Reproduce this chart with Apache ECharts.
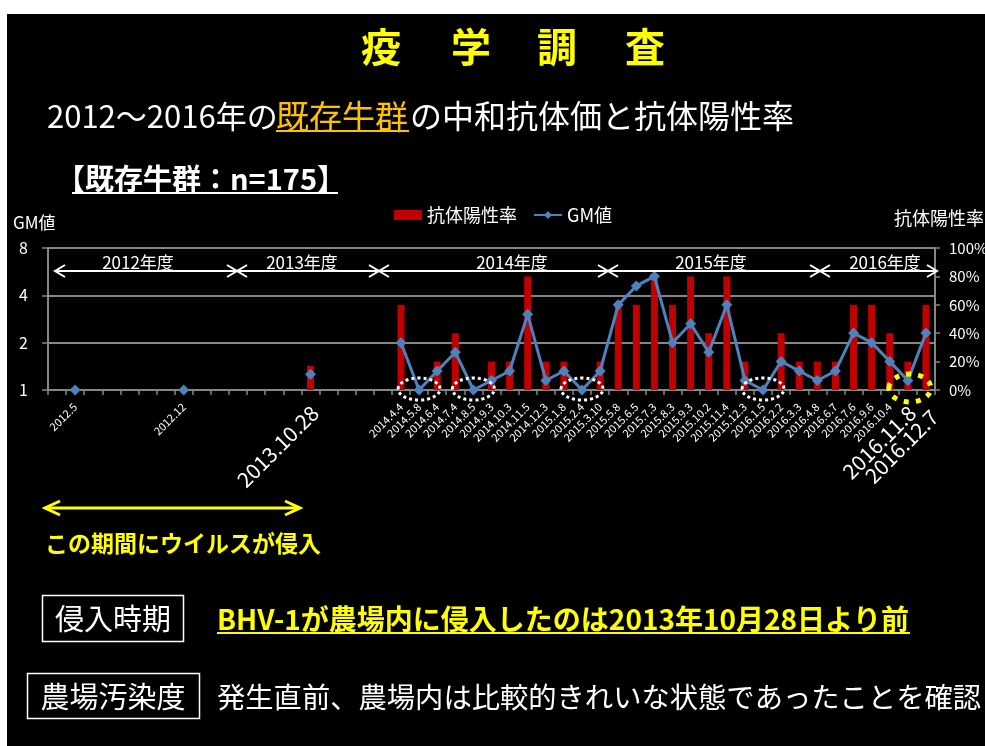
<!DOCTYPE html>
<html>
<head>
<meta charset="utf-8">
<script src="https://cdn.jsdelivr.net/npm/echarts@6/dist/echarts.min.js"></script>
<style>
html, body { margin: 0; padding: 0; background: #fff; }
#main { width: 985px; height: 746px; }
</style>
</head>
<body>
<div id="main"></div>
<script>
// sampling dates (blank = no survey that month)
var categories = ['', '2012.5', '', '', '', '', '', '2012.12', '', '', '', '', '', '', '2013.10.28', '', '', '', '',
    '2014.4.4', '2014.5.8', '2014.6.4', '2014.7.4', '2014.8.5', '2014.9.3', '2014.10.3', '2014.11.5', '2014.12.3',
    '2015.1.8', '2015.2.4', '2015.3.10', '2015.5.8', '2015.6.5', '2015.7.3', '2015.8.3', '2015.9.3', '2015.10.2',
    '2015.11.4', '2015.12.3', '2016.1.5', '2016.2.2', '2016.3.3', '2016.4.8', '2016.6.7', '2016.7.6', '2016.9.6',
    '2016.10.4', '2016.11.8', '2016.12.7'];
// 抗体陽性率 (%)
var positiveRate = ['-', 0, '-', '-', '-', '-', '-', 0, '-', '-', '-', '-', '-', '-', 17, '-', '-', '-', '-',
    60, 0, 20, 40, 0, 20, 20, 80, 20,
    20, 0, 20, 60, 60, 80, 60, 80, 40,
    80, 20, 0, 40, 20, 20, 20, 60, 60,
    40, 20, 60];
// GM値
var gmValues = ['-', 1, '-', '-', '-', '-', '-', 1, '-', '-', '-', '-', '-', '-', 1.26, '-', '-', '-', '-',
    2, 1, 1.32, 1.74, 1, 1.15, 1.32, 3.03, 1.15,
    1.32, 1, 1.32, 3.48, 4.59, 5.28, 2, 2.64, 1.74,
    3.48, 1.15, 1, 1.52, 1.32, 1.15, 1.32, 2.3, 2,
    1.52, 1.15, 2.3];
var bigLabels = ['2013.10.28', '2016.11.8'];
var bigLabelLast = '2016.12.7';
var yearLabels = ['2012年度', '2013年度', '2014年度', '2015年度', '2016年度'];
var circledIdx = [20, 23, 29, 39];
var yellowIdx = 47;

var FONT = '"Noto Sans CJK JP", "Noto Sans", sans-serif';
var GRAY = '#868686';

var chart = echarts.init(document.getElementById('main'));

var option = {
    backgroundColor: '#000',
    animation: false,
    textStyle: {fontFamily: FONT},
    legend: {
        left: 394,
        top: 206,
        padding: 0,
        itemWidth: 28,
        itemHeight: 10,
        itemGap: 16,
        textStyle: {color: '#fff', fontSize: 18, fontFamily: FONT},
        data: [{name: '抗体陽性率', icon: 'rect'}, {name: 'GM値'}]
    },
    grid: {left: 48, right: 50, top: 248, bottom: 356, outerBoundsMode: 'none'},
    xAxis: {
        type: 'category',
        data: categories,
        axisLine: {lineStyle: {color: GRAY, width: 2}},
        axisTick: {show: true, interval: 0, length: 5, lineStyle: {color: GRAY, width: 1.5}},
        axisLabel: {
            interval: 0,
            rotate: 45,
            color: '#fff',
            fontSize: 11,
            margin: 15,
            fontFamily: FONT,
            formatter: function (v) {
                if (bigLabels.indexOf(v) >= 0) {
                    return '{big|' + v + '}';
                }
                if (v == bigLabelLast) {
                    return '{big2|' + v + '}';
                }
                return v;
            },
            rich: {
                big: {fontSize: 21, color: '#fff', fontFamily: FONT, padding: [12, 0, 0, 0]},
                big2: {fontSize: 21, color: '#fff', fontFamily: FONT, padding: [24, 0, 0, 0]}
            }
        }
    },
    yAxis: [
        {
            type: 'log',
            logBase: 2,
            min: 1,
            max: 8,
            axisLine: {show: true, lineStyle: {color: GRAY, width: 2}},
            axisTick: {show: true, length: 6, lineStyle: {color: GRAY, width: 1.5}},
            splitLine: {show: true, lineStyle: {color: GRAY, width: 2}},
            axisLabel: {color: '#fff', fontSize: 16, margin: 20, fontFamily: FONT}
        },
        {
            type: 'value',
            position: 'right',
            min: 0,
            max: 100,
            interval: 20,
            axisLine: {show: true, lineStyle: {color: GRAY, width: 2}},
            axisTick: {show: true, length: 5, lineStyle: {color: GRAY, width: 1.5}},
            splitLine: {show: false},
            axisLabel: {color: '#fff', fontSize: 15, margin: 14, fontFamily: FONT, formatter: '{value}%'}
        }
    ],
    series: [
        {
            name: '抗体陽性率',
            type: 'bar',
            yAxisIndex: 1,
            barWidth: 7,
            itemStyle: {color: '#C00000'},
            data: positiveRate
        },
        {
            name: 'GM値',
            type: 'line',
            yAxisIndex: 0,
            symbol: 'diamond',
            symbolSize: 11,
            showAllSymbol: true,
            connectNulls: false,
            lineStyle: {color: '#4F81BD', width: 3},
            itemStyle: {color: '#4F81BD'},
            data: gmValues
        }
    ]
};
chart.setOption(option);

// ---- slide decorations (text, arrows, circles) ----
function txt(x, y, s, size, color, bold, align) {
    return {
        type: 'text', x: x, y: y, z: 100,
        style: {
            text: s, fill: color, fontSize: size, fontFamily: FONT,
            fontWeight: bold ? 'bold' : 'normal',
            align: align || 'left', verticalAlign: 'middle'
        }
    };
}
function line(points, color, width) {
    return {type: 'polyline', z: 100, shape: {points: points}, style: {stroke: color, lineWidth: width, fill: null}};
}
function doubleArrow(x1, x2, y, color, width, hl, hh) {
    return [
        line([[x1, y], [x2, y]], color, width),
        line([[x1 + hl, y - hh], [x1, y], [x1 + hl, y + hh]], color, width),
        line([[x2 - hl, y - hh], [x2, y], [x2 - hl, y + hh]], color, width)
    ];
}

var g = [];
// white margin round the slide
g.push({type: 'rect', z: 100, shape: {x: 0, y: 0, width: 985, height: 14}, style: {fill: '#fff'}});
g.push({type: 'rect', z: 100, shape: {x: 0, y: 0, width: 7, height: 746}, style: {fill: '#fff'}});

// title
var titleChars = ['疫', '学', '調', '査'];
var titleX = [381, 471, 557, 645];
for (var i = 0; i < titleChars.length; i++) {
    g.push(txt(titleX[i], 47, titleChars[i], 40, '#FFFF00', true, 'center'));
}
// subtitle
g.push(txt(47, 116, '2012〜2016年の', 31, '#fff', false));
g.push(txt(276, 116, '既存牛群', 33, '#FFC000', false));
g.push(line([[276, 131], [409, 131]], '#FFC000', 2));
g.push(txt(410, 116, 'の中和抗体価と抗体陽性率', 32, '#fff', false));
g.push(txt(56, 179, '【既存牛群：n=175】', 29, '#fff', true));
g.push(line([[72, 193], [338, 193]], '#fff', 2));

// axis titles
g.push(txt(13, 223, 'GM値', 17, '#fff', false));
g.push(txt(984, 218, '抗体陽性率', 18, '#fff', false, 'right'));

// fiscal year arrows
var yearBreaks = [55, 237, 379, 608, 820, 937];
for (var k = 0; k < yearLabels.length; k++) {
    g = g.concat(doubleArrow(yearBreaks[k], yearBreaks[k + 1], 271, '#fff', 2, 10, 6));
}
var yearCenters = [138, 302, 512, 711, 885];
for (var k2 = 0; k2 < yearLabels.length; k2++) {
    g.push(txt(yearCenters[k2], 263, yearLabels[k2], 17, '#fff', false, 'center'));
}

// dotted circles around the zero points
var baseY = chart.convertToPixel({yAxisIndex: 1}, 0);
for (var c = 0; c < circledIdx.length; c++) {
    var cx = chart.convertToPixel({xAxisIndex: 0}, circledIdx[c]);
    g.push({type: 'ellipse', z: 100, shape: {cx: cx, cy: baseY - 1, rx: 21, ry: 11},
        style: {stroke: '#fff', lineWidth: 3, lineDash: [3, 3], fill: null}});
}
var yx = chart.convertToPixel({xAxisIndex: 0}, yellowIdx);
g.push({type: 'ellipse', z: 100, shape: {cx: yx + 2, cy: baseY - 2, rx: 21, ry: 14},
    style: {stroke: '#FFFF00', lineWidth: 5, lineDash: [5, 7], fill: null}});

// bottom notes
g = g.concat(doubleArrow(45, 300, 508, '#FFFF00', 3, 15, 7));
g.push(txt(45, 543, 'この期間にウイルスが侵入', 23, '#FFFF00', true));

g.push({type: 'rect', z: 100, shape: {x: 42.5, y: 595.5, width: 141, height: 46}, style: {stroke: '#fff', lineWidth: 1.5, fill: null}});
g.push(txt(113, 619, '侵入時期', 29, '#fff', false, 'center'));
g.push(txt(217, 619, 'BHV-1が農場内に侵入したのは2013年10月28日より前', 28, '#FFFF00', true));
g.push(line([[217, 633], [910, 633]], '#FFFF00', 2));

g.push({type: 'rect', z: 100, shape: {x: 27.5, y: 673.5, width: 172, height: 45}, style: {stroke: '#fff', lineWidth: 1.5, fill: null}});
g.push(txt(113, 697, '農場汚染度', 29, '#fff', false, 'center'));
g.push(txt(217, 697, '発生直前、農場内は比較的きれいな状態であったことを確認', 28.3, '#fff', false));

chart.setOption({graphic: g});
</script>
</body>
</html>
